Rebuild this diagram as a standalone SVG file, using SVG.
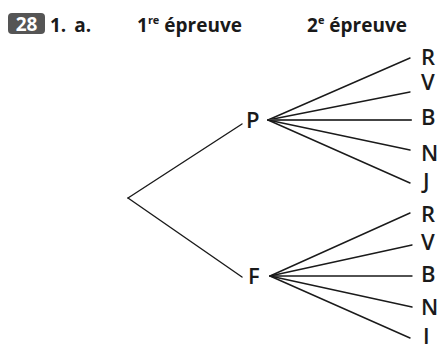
<svg xmlns="http://www.w3.org/2000/svg" width="438" height="344" viewBox="0 0 438 344">
<style>
.hd{font-family:"Open Sans","Noto Sans",sans-serif;font-weight:700;font-size:19px;fill:#1a1a1a}
.sup{font-size:11px}
.lb{font-family:"Open Sans","Noto Sans",sans-serif;font-weight:600;font-size:22px;fill:#1a1a1a}
.e{stroke:#1a1a1a;stroke-width:1.4;fill:none;stroke-linecap:round}
</style>
<rect width="438" height="344" fill="#fff"/>
<g id="header">
<rect x="8" y="13" width="37" height="21" rx="4" fill="#555"/>
<text x="26.5" y="30.5" text-anchor="middle" class="hd" style="fill:#fff">28</text>
<text x="50" y="32" class="hd" word-spacing="3">1. a.</text>
<text x="137" y="32" class="hd">1<tspan class="sup" dy="-8">re</tspan><tspan dy="8"> épreuve</tspan></text>
<text x="307" y="32" class="hd">2<tspan class="sup" dy="-8">e</tspan><tspan dy="8"> épreuve</tspan></text>
</g>
<g id="connectors">
<line class="e" x1="128" y1="198" x2="242" y2="124"/>
<line class="e" x1="128" y1="198" x2="242" y2="277"/>
<line class="e" x1="268" y1="120" x2="410" y2="58"/>
<line class="e" x1="268" y1="120" x2="410" y2="92"/>
<line class="e" x1="268" y1="120" x2="411" y2="120" style="stroke-width:2.2;stroke:#444"/>
<line class="e" x1="268" y1="120" x2="410" y2="150"/>
<line class="e" x1="268" y1="120" x2="410" y2="183"/>
<line class="e" x1="270" y1="276" x2="410" y2="213"/>
<line class="e" x1="270" y1="276" x2="412" y2="245"/>
<line class="e" x1="270" y1="276" x2="412" y2="276"/>
<line class="e" x1="270" y1="276" x2="412" y2="307"/>
<line class="e" x1="270" y1="276" x2="410" y2="338"/>
</g>
<g id="node-P"><text x="246" y="128" class="lb">P</text></g>
<g id="node-F"><text x="248" y="284" class="lb">F</text></g>
<g id="node-P-R"><text x="421" y="65" class="lb">R</text></g>
<g id="node-P-V"><text x="421" y="90" class="lb">V</text></g>
<g id="node-P-B"><text x="421" y="125" class="lb">B</text></g>
<g id="node-P-N"><text x="421" y="161" class="lb">N</text></g>
<g id="node-P-J"><text x="423" y="189" class="lb">J</text></g>
<g id="node-F-R"><text x="421" y="222" class="lb">R</text></g>
<g id="node-F-V"><text x="421" y="250" class="lb">V</text></g>
<g id="node-F-B"><text x="421" y="282" class="lb">B</text></g>
<g id="node-F-N"><text x="421" y="315" class="lb">N</text></g>
<g id="node-F-J"><text x="423" y="344" class="lb">J</text></g>
</svg>
